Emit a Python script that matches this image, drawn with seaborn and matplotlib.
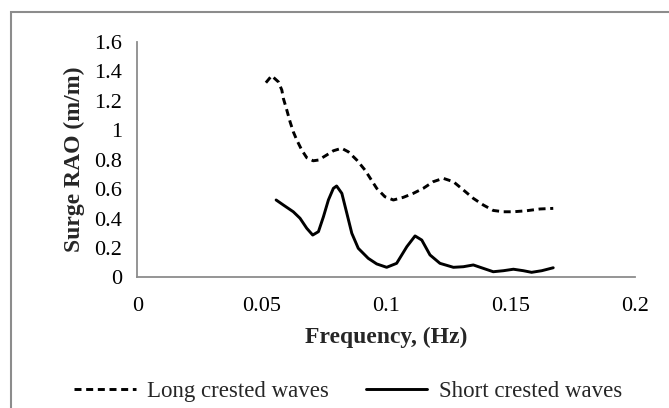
import numpy as np
import pandas as pd
import seaborn as sns
import matplotlib
matplotlib.use("Agg")
import matplotlib.pyplot as plt
from matplotlib.patches import Rectangle
from matplotlib.lines import Line2D

# Surge RAO vs. wave frequency
long_freq = [0.0516, 0.0539, 0.0566, 0.0580, 0.0586, 0.0600, 0.0613, 0.0626, 0.0640,
             0.0660, 0.0680, 0.0706, 0.0727, 0.0760, 0.0787, 0.0820, 0.0847,
             0.0881, 0.0914, 0.0961, 0.0994, 0.1028, 0.1068, 0.1108, 0.1148,
             0.1188, 0.1228, 0.1269, 0.1309, 0.1349, 0.1389, 0.1429, 0.1470,
             0.1510, 0.1563, 0.1617, 0.1670]
long_rao = [1.322, 1.369, 1.328, 1.272, 1.216, 1.136, 1.057, 0.989, 0.933,
            0.865, 0.813, 0.792, 0.797, 0.831, 0.860, 0.877, 0.853,
            0.797, 0.729, 0.605, 0.548, 0.526, 0.544, 0.571, 0.605,
            0.650, 0.673, 0.650, 0.594, 0.537, 0.492, 0.455, 0.446,
            0.446, 0.453, 0.465, 0.469]

short_freq = [0.0557, 0.0586, 0.0626, 0.0653, 0.0680, 0.0704, 0.0727, 0.0747, 0.0767,
              0.0787, 0.0800, 0.0821, 0.0841, 0.0861, 0.0887, 0.0927, 0.0961,
              0.1001, 0.1041, 0.1082, 0.1115, 0.1142, 0.1175, 0.1215, 0.1269,
              0.1309, 0.1349, 0.1389, 0.1429, 0.1470, 0.1510, 0.1550, 0.1583,
              0.1624, 0.1670]
short_rao = [0.526, 0.492, 0.446, 0.402, 0.334, 0.288, 0.311, 0.412, 0.526,
             0.605, 0.621, 0.571, 0.436, 0.300, 0.198, 0.130, 0.092,
             0.069, 0.096, 0.209, 0.282, 0.254, 0.153, 0.096, 0.069,
             0.073, 0.085, 0.062, 0.039, 0.046, 0.056, 0.046, 0.035,
             0.046, 0.066]

series_names = ["Long crested waves", "Short crested waves"]
x_ticks = [0, 0.05, 0.1, 0.15, 0.2]
x_tick_labels = ["0", "0.05", "0.1", "0.15", "0.2"]
y_ticks = [0, 0.2, 0.4, 0.6, 0.8, 1.0, 1.2, 1.4, 1.6]
y_tick_labels = ["0", "0.2", "0.4", "0.6", "0.8", "1", "1.2", "1.4", "1.6"]

df = pd.concat([
    pd.DataFrame({"freq": long_freq, "rao": long_rao, "wave": series_names[0]}),
    pd.DataFrame({"freq": short_freq, "rao": short_rao, "wave": series_names[1]}),
], ignore_index=True)

sns.set_style("white")
plt.rcParams["font.family"] = ["Liberation Serif", "DejaVu Serif"]

fig = plt.figure(figsize=(6.69, 4.08), dpi=100)
ax = fig.add_axes([0.2054, 0.3199, 0.7444, 0.5778])

lw = 2.1
dash = (2.4, 1.6)
dash_styles = {series_names[0]: dash, series_names[1]: ""}
sns.lineplot(data=df, x="freq", y="rao", style="wave", dashes=dash_styles,
             color="black", linewidth=lw, sort=False, estimator=None,
             legend=False, ax=ax)
for ln in ax.get_lines():
    ln.set_solid_capstyle("round")
    ln.set_solid_joinstyle("round")
    ln.set_dash_joinstyle("round")

ax.set_xlim(0, 0.2)
ax.set_ylim(0, 1.6)
ax.set_xticks(x_ticks)
ax.set_xticklabels(x_tick_labels)
ax.set_yticks(y_ticks)
ax.set_yticklabels(y_tick_labels)

axis_gray = "#8c8c8c"
for side in ["top", "right"]:
    ax.spines[side].set_visible(False)
for side in ["left", "bottom"]:
    ax.spines[side].set_color(axis_gray)
    ax.spines[side].set_linewidth(1.3)
ax.tick_params(axis="both", which="major", direction="out", length=4,
               width=1.3, color=axis_gray, labelsize=16, labelcolor="black")
ax.tick_params(axis="x", pad=10)
ax.tick_params(axis="y", pad=7)

ax.set_xlabel("Frequency, (Hz)", fontsize=17, fontweight="bold", labelpad=8)
ax.set_ylabel("Surge RAO (m/m)", fontsize=17, fontweight="bold", labelpad=7)

handles = [
    Line2D([], [], color="black", linewidth=lw, linestyle=(0, dash)),
    Line2D([], [], color="black", linewidth=lw),
]
fig.legend(handles, series_names, loc="center", bbox_to_anchor=(0.52, 0.04),
           ncol=2, frameon=False, fontsize=16.5, handlelength=2.7,
           columnspacing=1.6, handletextpad=0.5)

# outer frame around the whole figure
fig.patches.append(Rectangle((11 / 669, -0.1), 1.2, 1.1 - 12 / 408,
                             transform=fig.transFigure, fill=False,
                             edgecolor="#8c8c8c", linewidth=1.5))

fig.savefig("out.png", dpi=100, facecolor="white")
